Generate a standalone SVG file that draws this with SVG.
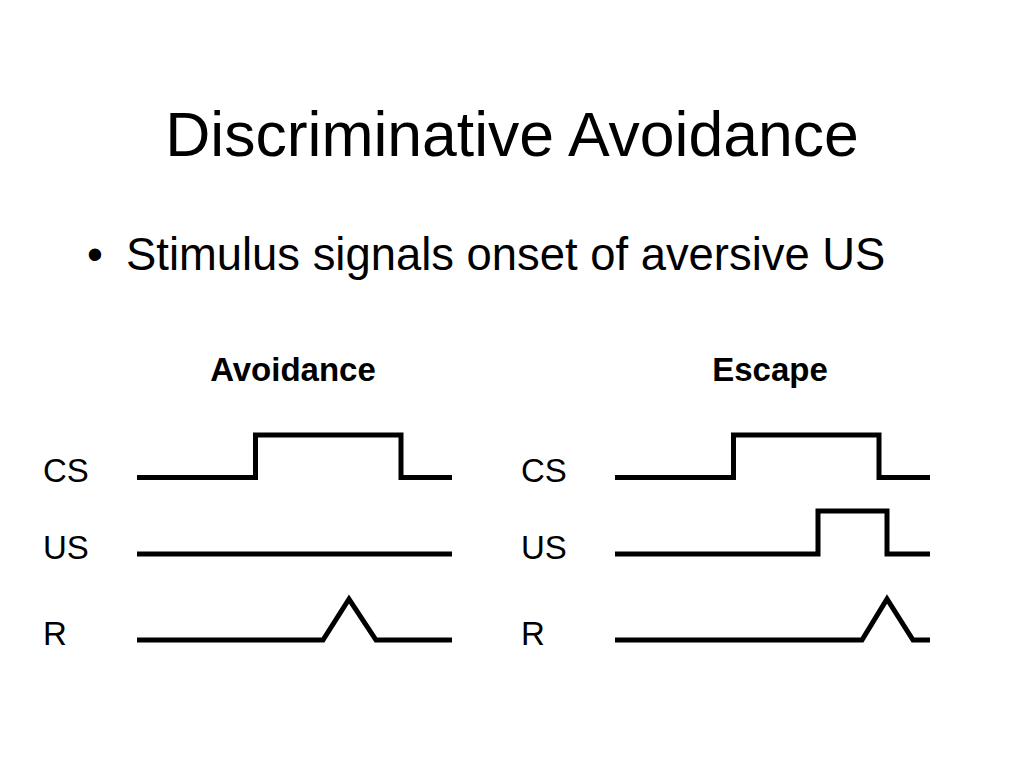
<svg xmlns="http://www.w3.org/2000/svg" width="1024" height="768" viewBox="0 0 1024 768">
<style>
text{font-family:"Liberation Sans",Arial,sans-serif;fill:#000}
.title{font-size:62.5px;text-anchor:middle}
.bullet{font-size:45.4px}
.head{font-size:33px;font-weight:bold;text-anchor:middle}
.lab{font-size:33px}
.wave{fill:none;stroke:#000;stroke-width:5;stroke-linejoin:miter;stroke-linecap:butt}
</style>
<rect width="1024" height="768" fill="#fff"/>
<text class="title" x="512" y="156">Discriminative Avoidance</text>
<text class="bullet" x="87" y="270">•</text>
<text class="bullet" x="126" y="270">Stimulus signals onset of aversive US</text>
<g id="avoidance">
<text class="head" x="293" y="381">Avoidance</text>
<text class="lab" x="43" y="482">CS</text>
<text class="lab" x="43" y="559">US</text>
<text class="lab" x="43" y="645">R</text>
<path class="wave" d="M137,477.5 H255.5 V435 H401 V477.5 H452"/>
<path class="wave" d="M137,554 H452"/>
<path class="wave" d="M137,640 H323 L349,599 L376,640 H452"/>
</g>
<g id="escape">
<text class="head" x="770" y="381">Escape</text>
<text class="lab" x="521" y="482">CS</text>
<text class="lab" x="521" y="559">US</text>
<text class="lab" x="521" y="645">R</text>
<path class="wave" d="M615,477.5 H733.5 V435 H879 V477.5 H930"/>
<path class="wave" d="M615,554 H818 V511 H887 V554 H930"/>
<path class="wave" d="M615,640 H862 L887,599 L913,640 H930"/>
</g>
</svg>
